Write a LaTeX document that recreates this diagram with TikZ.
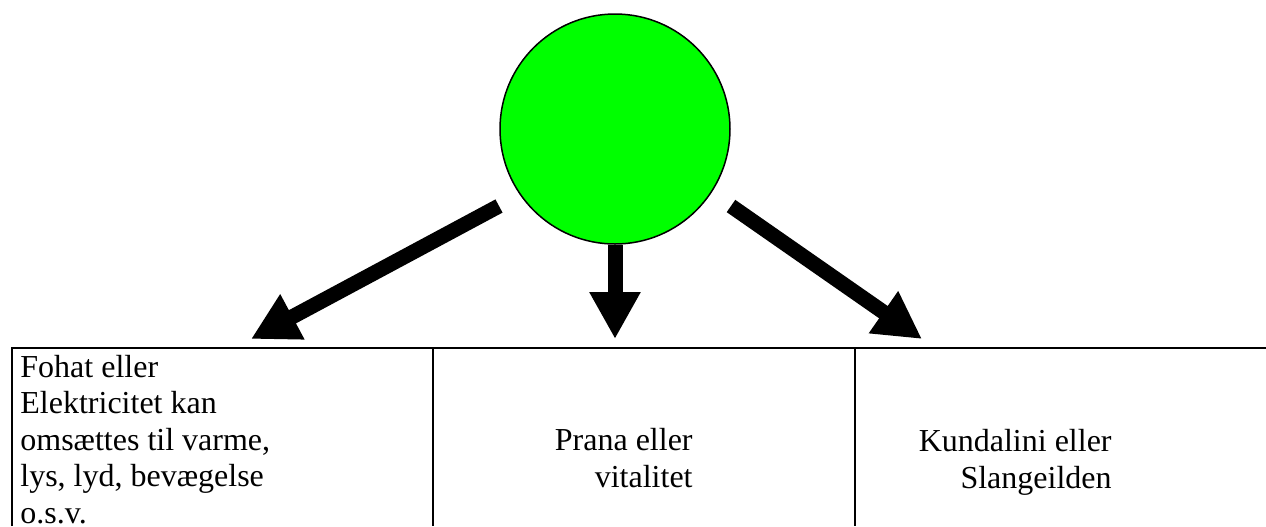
\documentclass[tikz,border=0pt]{standalone}
\usepackage{fontspec}
\setmainfont{Liberation Serif}
\usetikzlibrary{arrows.meta}
\definecolor{kuglegroen}{RGB}{0,255,0}
\begin{document}
\begin{tikzpicture}[x=0.5pt, y=-0.5pt,
		pil/.style={line width=7.5pt, -{Triangle[length=23.5pt, width=24pt]}},
		celle/.style={inner sep=0pt, font=\fontsize{16}{18.25}\selectfont}]
	\useasboundingbox (0,0) rectangle (1266,526);

	\node[circle, draw, fill=kuglegroen, line width=0.75pt, minimum size=115pt, inner sep=0pt] (kugle) at (615,129) {};

	\coordinate (vstart) at (499,206);
	\coordinate (vspids) at (251,339);
	\coordinate (mspids) at (615,339);
	\coordinate (hstart) at (731,206);
	\coordinate (hspids) at (922,339);

	\draw[pil] (vstart) -- (vspids);
	\draw[pil] (kugle.south) -- (mspids);
	\draw[pil] (hstart) -- (hspids);

	\draw[line width=1.4pt] (12,526) -- (12,348) -- (1266,348);
	\foreach \x in {433,855}
		\draw[line width=1.4pt] (\x,348) -- (\x,526);

	\node[celle, anchor=base west, align=left] (fohat) at (20,523) {Fohat eller\\Elektricitet kan\\omsættes til varme,\\lys, lyd, bevægelse\\o.s.v.};
	\node[celle, anchor=base east, align=right] (prana) at (693,487) {Prana eller\\vitalitet};
	\node[celle, anchor=base east, align=right] (kundalini) at (1112,488) {Kundalini eller\\Slangeilden};
\end{tikzpicture}
\end{document}
